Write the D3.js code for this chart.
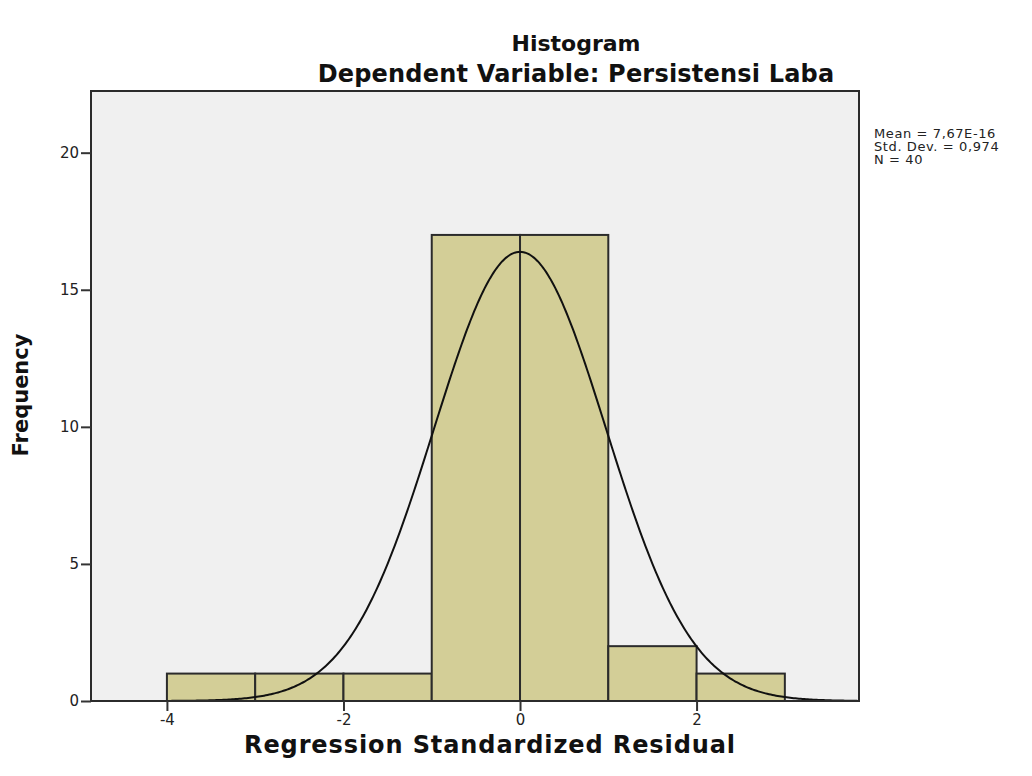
<!DOCTYPE html>
<html>
<head>
<meta charset="utf-8">
<script src="https://cdn.jsdelivr.net/npm/d3@7"></script>
<style>
  body { margin: 0; background: #fff; }
  text { font-family: "DejaVu Sans", Verdana, sans-serif; }
</style>
</head>
<body>
<div id="chart"></div>
<script>
// Histogram data (bins of width 1)
var binStarts = [-4, -3, -2, -1, 0, 1, 2];
var counts = [1, 1, 1, 17, 17, 2, 1];
var xTicks = [-4, -2, 0, 2];
var yTicks = [0, 5, 10, 15, 20];
var statLines = ["Mean = 7,67E-16", "Std. Dev. = 0,974", "N = 40"];
var meanVal = 7.67e-16, sdVal = 0.974, nVal = 40;

var W = 1032, H = 776;
var margin = { top: 91, right: 173, bottom: 75, left: 91 },
    width = W - margin.left - margin.right,
    height = H - margin.top - margin.bottom;

var svg = d3.select("#chart")
  .append("svg")
    .attr("width", W)
    .attr("height", H);

var g = svg.append("g")
  .attr("transform", "translate(" + margin.left + "," + margin.top + ")");

var x = d3.scaleLinear().domain([-4.86, 3.84]).range([0, width]);
var y = d3.scaleLinear().domain([0, 22.25]).range([height, 0]);

// background
g.append("rect")
  .attr("width", width)
  .attr("height", height)
  .attr("fill", "#f0f0f0");

// bars
g.selectAll(".bar")
  .data(binStarts)
  .enter()
  .append("rect")
    .attr("x", function(d) { return x(d); })
    .attr("y", function(d, i) { return y(counts[i]); })
    .attr("width", function(d) { return x(d + 1) - x(d); })
    .attr("height", function(d, i) { return height - y(counts[i]); })
    .attr("fill", "#d3ce97")
    .attr("stroke", "#2b2b2b")
    .attr("stroke-width", 2);

// normal curve from mean / sd / N
var pts = d3.range(-4.86, 3.84, 0.02).map(function(v) {
  var z = (v - meanVal) / sdVal;
  return [v, nVal / (sdVal * Math.sqrt(2 * Math.PI)) * Math.exp(-0.5 * z * z)];
});
g.append("path")
  .datum(pts)
  .attr("fill", "none")
  .attr("stroke", "#111")
  .attr("stroke-width", 2)
  .attr("d", d3.line()
    .x(function(d) { return x(d[0]); })
    .y(function(d) { return y(d[1]); }));

// frame
g.append("rect")
  .attr("width", width)
  .attr("height", height)
  .attr("fill", "none")
  .attr("stroke", "#2b2b2b")
  .attr("stroke-width", 2);

// axes
var xAxis = g.append("g")
  .attr("transform", "translate(0," + height + ")")
  .call(d3.axisBottom(x).tickValues(xTicks).tickSize(10).tickPadding(3)
    .tickFormat(function(d) { return d; }));
var yAxis = g.append("g")
  .call(d3.axisLeft(y).tickValues(yTicks).tickSize(10).tickPadding(2));

[xAxis, yAxis].forEach(function(a) {
  a.select(".domain").remove();
  a.selectAll("line").attr("stroke", "#333").attr("stroke-width", 2);
  a.selectAll("text")
    .attr("font-size", "15px")
    .attr("fill", "#222")
    .style("font-family", "DejaVu Sans, Verdana, sans-serif");
});

// titles
svg.append("text")
  .attr("x", 576).attr("y", 51)
  .attr("text-anchor", "middle")
  .attr("font-size", "22px").attr("font-weight", "bold")
  .attr("fill", "#111")
  .text("Histogram");
svg.append("text")
  .attr("x", 576).attr("y", 82)
  .attr("text-anchor", "middle")
  .attr("font-size", "24px").attr("font-weight", "bold")
  .attr("letter-spacing", "0.2px")
  .attr("fill", "#111")
  .text("Dependent Variable: Persistensi Laba");

// axis labels
svg.append("text")
  .attr("x", 490).attr("y", 753)
  .attr("text-anchor", "middle")
  .attr("font-size", "24px").attr("font-weight", "bold")
  .attr("letter-spacing", "0.9px")
  .attr("fill", "#111")
  .text("Regression Standardized Residual");
svg.append("text")
  .attr("transform", "translate(28,395) rotate(-90)")
  .attr("text-anchor", "middle")
  .attr("font-size", "21px").attr("font-weight", "bold")
  .attr("fill", "#111")
  .text("Frequency");

// stats
svg.append("g").selectAll("text")
  .data(statLines)
  .enter()
  .append("text")
    .attr("x", 874)
    .attr("y", function(d, i) { return 138 + i * 13; })
    .attr("font-size", "13px")
    .attr("letter-spacing", "0.6px")
    .attr("fill", "#222")
    .text(function(d) { return d; });
</script>
</body>
</html>
